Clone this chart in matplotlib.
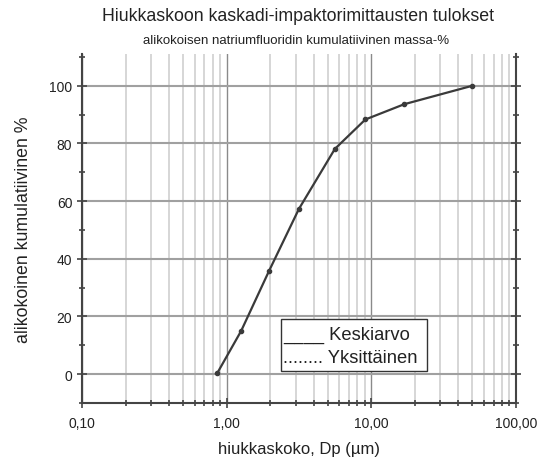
import numpy as np
import matplotlib.pyplot as plt
from matplotlib.patches import Rectangle
from matplotlib.ticker import FixedLocator, LogLocator, FuncFormatter, MultipleLocator

plt.rcParams['font.family'] = ['Liberation Sans', 'DejaVu Sans']

# particle size (um) and cumulative mass-%
dp = [0.86, 1.26, 1.96, 3.16, 5.6, 9.1, 16.9, 50.0]
cum = [0.3, 15.0, 35.7, 57.3, 78.1, 88.3, 93.6, 100.0]

xticks = [0.1, 1, 10, 100]
yticks = [0, 20, 40, 60, 80, 100]

fig = plt.figure(figsize=(5.38, 4.6), dpi=100)
ax = fig.add_axes([0.1524, 0.1217, 0.8066, 0.7587])

ax.set_xscale('log')
ax.set_xlim(0.1, 100)
ax.set_ylim(-10, 111)

ax.xaxis.set_major_locator(FixedLocator(xticks))
ax.xaxis.set_minor_locator(LogLocator(base=10, subs=np.arange(2, 10)))
ax.xaxis.set_major_formatter(FuncFormatter(lambda v, p: f"{v:.2f}".replace('.', ',')))
ax.xaxis.set_minor_formatter(FuncFormatter(lambda v, p: ''))
ax.yaxis.set_major_locator(FixedLocator(yticks))
ax.yaxis.set_minor_locator(MultipleLocator(10))

ax.grid(True, which='major', axis='x', color='#8a8a8a', lw=1.0)
ax.grid(True, which='minor', axis='x', color='#d0d0d0', lw=1.2)
ax.grid(True, which='major', axis='y', color='#a0a0a0', lw=1.5)
ax.set_axisbelow(True)

ax.spines['top'].set_visible(False)
for s in ['left', 'right', 'bottom']:
    ax.spines[s].set_color('#444444')
    ax.spines[s].set_linewidth(1.5)

ax.tick_params(which='both', direction='inout', color='#444444', width=1.2, labelsize=10,
               labelcolor='#222222')
ax.tick_params(which='major', length=7)
ax.tick_params(which='minor', length=5)
ax.tick_params(axis='y', right=True, which='both')
ax.tick_params(axis='x', pad=6)

ax.plot(dp, cum, color='#3a3a3a', lw=1.6, marker='o', ms=3, zorder=3)

# legend drawn as a text box like in the original
ax.add_patch(Rectangle((0.4585, 0.0917), 0.3365, 0.149, transform=ax.transAxes,
                       fc='white', ec='#333333', lw=1.0, zorder=4))
ax.text(0.4631, 0.1834, "____ Keskiarvo", transform=ax.transAxes, fontsize=13.2,
        va='baseline', ha='left', zorder=5, color='#222222')
ax.text(0.4631, 0.1175, "........ Yksittäinen", transform=ax.transAxes, fontsize=13.2,
        va='baseline', ha='left', zorder=5, color='#222222')

ax.set_xlabel("hiukkaskoko, Dp (µm)", fontsize=12, labelpad=8, color='#222222')
ax.set_ylabel("alikokoinen kumulatiivinen %", fontsize=12.8, labelpad=12, color='#222222')

fig.text(0.554, 0.964, "Hiukkaskoon kaskadi-impaktorimittausten tulokset", ha='center',
         va='center', fontsize=12.75, color='#222222')
fig.text(0.551, 0.911, "alikokoisen natriumfluoridin kumulatiivinen massa-%", ha='center',
         va='center', fontsize=9.5, color='#222222')

fig.savefig('out.png', dpi=100)
